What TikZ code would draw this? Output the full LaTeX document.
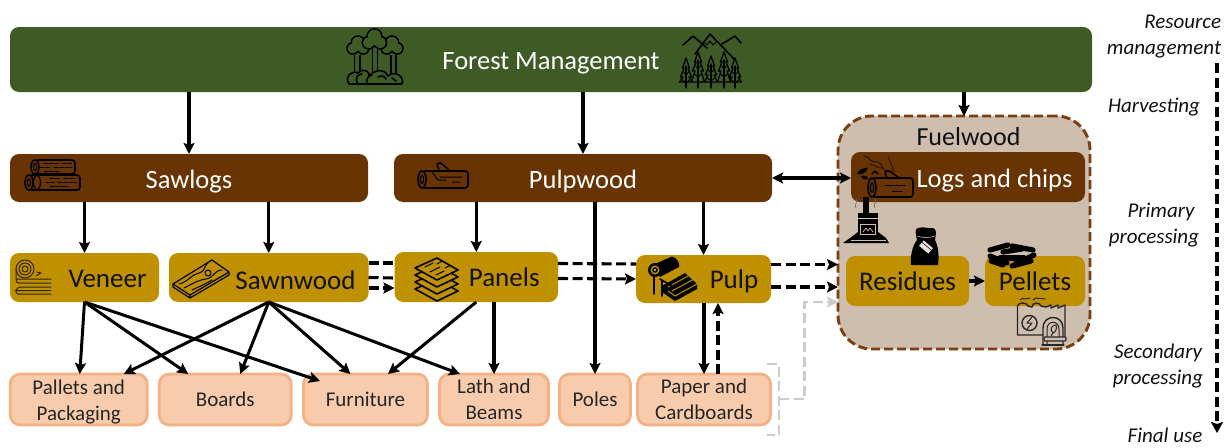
\documentclass[tikz,border=0pt]{standalone}
\usepackage{fontspec}
\setmainfont{Carlito}
\usetikzlibrary{arrows.meta,calc}
\definecolor{forestc}{HTML}{3E5B25}
\definecolor{brownc}{HTML}{683403}
\definecolor{ochrec}{HTML}{BF9000}
\definecolor{peachc}{HTML}{F8CBAD}
\definecolor{peachb}{HTML}{F4B183}
\definecolor{fuelc}{HTML}{CDBEAE}
\definecolor{fueld}{HTML}{7A3E10}
\definecolor{grayc}{HTML}{CCCCCC}
\definecolor{inkc}{HTML}{111111}
\newcommand{\lift}[1]{\rule{0pt}{#1pt}}
\tikzset{
  x=1pt,y=-1pt,
  every node/.style={inner sep=0pt,outer sep=0pt},
  box/.style={rounded corners=9pt,align=center},
  forestbox/.style={box,fill=forestc,text=white,font=\fontsize{26.5}{29}\selectfont},
  brownbox/.style={box,fill=brownc,text=white,font=\fontsize{26.5}{29}\selectfont},
  ochrebox/.style={box,fill=ochrec,text=inkc,font=\fontsize{27}{30}\selectfont},
  finalbox/.style={box,rounded corners=10pt,fill=peachc,draw=peachb,line width=2.8pt,text=black!85,font=\fontsize{21}{25}\selectfont},
  sidelabel/.style={font=\itshape\fontsize{21}{25}\selectfont,text=inkc,align=center},
  flow/.style={draw=black,line width=3.1pt,-{Stealth[length=11pt,width=11pt,inset=2pt]}},
  flowdiag/.style={flow,line width=3pt},
  flowdash/.style={draw=black,line width=3.1pt,dash pattern=on 10pt off 4.5pt},
  flowdashtip/.style={flowdash,-{Stealth[length=11pt,width=11pt,inset=2pt]}},
  flowgray/.style={draw=grayc,line width=2.8pt,dash pattern=on 10pt off 4.5pt},
  icon/.style={draw=black,line width=1.6pt,line cap=round,line join=round},
  iconthin/.style={draw=black,line width=1pt,line cap=round,line join=round},
}
% cloud shaped tree crown
\newcommand{\crownicon}[3]{%
  \foreach \dx/\dy/\rr in {-.55/.25/.6,.55/.25/.6,0/-.35/.7}{
    \draw[icon] (#1+\dx*#3,#2+\dy*#3) circle ({\rr*#3});}
  \foreach \dx/\dy/\rr in {-.55/.25/.6,.55/.25/.6,0/-.35/.7,0/.1/.5}{
    \fill[forestc] (#1+\dx*#3,#2+\dy*#3) circle ({\rr*#3-.8});}
}
\newcommand{\firicon}[3]{%
  \draw[fill=forestc,icon,line width=1.3pt] (#1,#2) -- (#1-3.5,#2+10) -- (#1-2,#2+10) -- (#1-5.5,#2+19) -- (#1-3,#2+19) -- (#1-6.5,#3-6) -- (#1+6.5,#3-6) -- (#1+3,#2+19) -- (#1+5.5,#2+19) -- (#1+2,#2+10) -- (#1+3.5,#2+10) -- cycle;
  \draw[icon,line width=1.3pt] (#1,#2+8) -- (#1,#3);
  \draw[icon,line width=.9pt] (#1-2.5,#2+14) -- (#1,#2+17) -- (#1+2.5,#2+14) (#1-3.5,#2+22) -- (#1,#2+25) -- (#1+3.5,#2+22);
}
\newcommand{\logicon}[5]{% x1 y1 x2 y2 fill
  \draw[icon,fill=#5,rounded corners=3pt] (#1+4,#2) rectangle (#3,#4);
  \draw[icon,fill=#5] (#1+4,{(#2+#4)/2}) ellipse (4 and {(#4-#2)/2});
  \draw[icon,line width=1.1pt] (#1+4,{(#2+#4)/2}) ellipse (1.6 and {(#4-#2)/4});
}
\begin{document}
\begin{tikzpicture}
\useasboundingbox (0,0) rectangle (1228,447);

% --- containers and boxes
\node[rounded corners=34pt,fill=fuelc,draw=fueld,line width=2.9pt,dash pattern=on 9pt off 4pt,minimum width=252pt,minimum height=233pt] (fuelwood) at (964,232.5) {};
\node[forestbox,minimum width=1082pt,minimum height=65pt] (forest) at (551,59.5) {\lift{25}Forest Management};
\node[brownbox,minimum width=358pt,minimum height=48pt] (sawlogs) at (189,178) {\lift{25}Sawlogs};
\node[brownbox,minimum width=378pt,minimum height=48pt] (pulpwood) at (583,178) {\lift{25}Pulpwood};
\node[brownbox,minimum width=234pt,minimum height=50pt] (logs) at (968,177) {\hspace*{53pt}\lift{25}Logs and chips};
\node[font=\fontsize{26}{28}\selectfont,text=inkc] (fuelt) at (968.5,137) {Fuelwood};
\node[ochrebox,minimum width=149pt,minimum height=49pt] (veneer) at (84.5,277.5) {\hspace*{46pt}\lift{21}Veneer};
\node[ochrebox,minimum width=199.5pt,minimum height=49pt] (sawnwood) at (268.75,277.5) {\hspace*{53.5pt}\lift{24}Sawnwood};
\node[ochrebox,minimum width=163.5pt,minimum height=50pt] (panels) at (476.25,277) {\hspace*{56pt}Panels};
\node[ochrebox,minimum width=135pt,minimum height=48pt] (pulp) at (703.5,279) {\hspace*{61pt}\lift{24}Pulp};
\node[ochrebox,minimum width=123pt,minimum height=50pt] (residues) at (907.5,281) {Residues};
\node[ochrebox,minimum width=100pt,minimum height=50pt] (pellets) at (1035,281) {Pellets};
\node[finalbox,minimum width=137pt,minimum height=51pt] (pallets) at (78.75,399.5) {\lift{20}Pallets and\\[1pt]Packaging};
\node[finalbox,minimum width=132pt,minimum height=51pt] (boards) at (225.25,399.5) {Boards};
\node[finalbox,minimum width=124pt,minimum height=51pt] (furniture) at (365.5,399.5) {Furniture};
\node[finalbox,minimum width=109pt,minimum height=51pt] (lath) at (494,399.5) {Lath and\\[1pt]Beams};
\node[finalbox,minimum width=71pt,minimum height=51pt] (poles) at (595,399.5) {Poles};
\node[finalbox,minimum width=133pt,minimum height=51pt] (paper) at (704,399.5) {Paper and\\[1pt]Cardboards};

% --- side labels
\node[sidelabel,anchor=north east,align=right] (lres) at (1221,15) {Resource\\[1pt]management};
\node[sidelabel] (lharv) at (1154,107) {Harvesting};
\node[sidelabel] (lprim) at (1154,225) {\hspace*{14pt}Primary\\[1pt]processing};
\node[sidelabel] (lsec) at (1158,366) {Secondary\\[1pt]processing};
\node[sidelabel] (lfin) at (1165,435.5) {Final use};
\coordinate (axistop) at (1217,63);
\coordinate (axisend) at (1217,433);
\draw[draw=black,line width=3.2pt,dash pattern=on 10pt off 4.5pt,-{Stealth[length=11pt,width=12pt,inset=2pt]}] (axistop) -- (axisend);

% --- solid flows
\draw[flow] (forest.south -| sawlogs.north) -- (sawlogs.north);
\draw[flow] (forest.south -| pulpwood.north) -- (pulpwood.north);
\draw[flow] (forest.south -| fuelwood.north) -- (fuelwood.north);
\draw[flow] (sawlogs.south -| veneer.north) -- (veneer.north);
\draw[flow] (sawlogs.south -| sawnwood.north) -- (sawnwood.north);
\draw[flow] (pulpwood.south -| panels.north) -- (panels.north);
\draw[flow] (pulpwood.south -| poles.north) -- (poles.north);
\draw[flow] (pulpwood.south -| pulp.north) -- (pulp.north);
\draw[flow,{Stealth[length=11pt,width=11pt,inset=2pt]}-{Stealth[length=11pt,width=11pt,inset=2pt]}] (pulpwood.east) -- (pulpwood.east -| logs.west);
\draw[flowdiag] (veneer.south) -- ([xshift=1pt]pallets.north);
\draw[flowdiag] (veneer.south) -- ([xshift=-37pt]boards.north);
\draw[flowdiag] (veneer.south) -- ([xshift=-45.5pt,yshift=-7pt]furniture.north);
\draw[flowdiag] (sawnwood.south) -- ([xshift=45pt]pallets.north);
\draw[flowdiag] (sawnwood.south) -- ([xshift=15pt]boards.north);
\draw[flowdiag] (sawnwood.south) -- ([xshift=-15pt]furniture.north);
\draw[flowdiag] (sawnwood.south) -- ([xshift=-34pt]lath.north);
\draw[flowdiag] (panels.south) -- ([xshift=22.5pt]furniture.north);
\draw[flow] (panels.south -| lath.north) -- (lath.north);
\draw[flow] (pulp.south -| paper.north) -- (paper.north);

% --- dashed flows
\draw[flowdash] ([yshift=14.5pt]sawnwood.east) -- ([yshift=14pt]panels.west);
\draw[flowdash] (sawnwood.east) -- ([yshift=-1pt]panels.west);
\draw[flowdashtip] ([yshift=-10.5pt]sawnwood.east) -- ([yshift=-11pt]panels.west);
\draw[flowdash] ([yshift=13.5pt]panels.east) -- ([yshift=15pt]pulp.west);
\draw[flowdashtip] ([yshift=-1.5pt]panels.east) -- (pulp.west);
\draw[flowdashtip] ([yshift=14.5pt]pulp.east) -- ([yshift=-32pt]fuelwood.west);
\draw[flowdashtip] ([yshift=-8pt]pulp.east) -- ([yshift=-54.5pt]fuelwood.west);
\draw[flowdashtip] ([xshift=14pt]paper.north) -- ([xshift=14.5pt]pulp.south);
\draw[flowdashtip] (residues.east) -- (pellets.west);

% --- grey dashed bracket
\coordinate (brtop) at (767,364);
\coordinate (brbot) at (767,435);
\coordinate (brmid) at (779,399);
\coordinate (brup) at (804.5,302);
\draw[flowgray] (brtop) -- (779,364) -- (779,435) -- (brbot);
\draw[flowgray,-{Stealth[length=11pt,width=11pt,inset=2pt]},draw=grayc] (brmid) -- (804.5,399) -- (brup) -- (brup -| fuelwood.west);

% ===== icons =====
% forest trees
\draw[icon] (354.5,56) -- (354.5,74) (360,56) -- (360,74) (391,56) -- (391,74) (396,56) -- (396,74);
\crownicon{358}{46}{9.5}
\crownicon{392}{46}{9.5}
\draw[icon] (354.5,56) -- (354.5,74) (360,56) -- (360,74) (391,56) -- (391,74) (396,56) -- (396,74);
\crownicon{374.5}{40}{10.5}
\draw[icon] (372.5,47) -- (372.5,74) (377.5,47) -- (377.5,74);
\draw[icon,fill=forestc] (349,84) .. controls (344,76) and (352,70) .. (358,73) .. controls (364,67) and (370,72) .. (369,76) .. controls (376,68) and (386,70) .. (388,76) .. controls (394,70) and (405,76) .. (402,84) -- cycle;
\draw[icon] (358,84) .. controls (354,78) and (358,74) .. (362,74) (368,84) .. controls (365,79) and (368,76) .. (372,75) (378,77) .. controls (382,75) and (384,76) .. (386,79) (392,78) -- (396,81);
% mountains and firs
\draw[icon] (683,45) -- (693,36) -- (707,48) (695,54) -- (710,34) -- (735,60) (722,44) -- (735,36) -- (741,43);
\draw[iconthin] (704,42) -- (707,45) -- (710,41) -- (713,45) -- (716,42);
\firicon{686}{58}{88}
\firicon{735}{58}{88}
\firicon{698}{52}{88}
\firicon{724}{52}{88}
\firicon{711}{56}{88}
% sawlogs
\logicon{31}{160}{75}{174}{brownc}
\logicon{25}{175}{80}{190}{brownc}
\draw[icon,line width=1.1pt] (37,182.5) ellipse (3.5 and 7);
\foreach \yy/\xa/\xb in {163/44/58,163/62/72,167/40/50,167/54/72,171/44/60,178/50/60,178/64/76,182/46/54,182/58/76,186/50/68}{
  \draw[iconthin,dash pattern=on 4pt off 1.5pt] (\xa,\yy) -- (\xb,\yy);}
% pulpwood log
\draw[icon] (439,170) -- (437,164.5) .. controls (438,162) and (441,162) .. (442,164) -- (450,171);
\logicon{418}{171}{468}{188}{brownc}
\draw[iconthin] (440,177) -- (462,177) (432,172) -- (438,180) -- (446,180) (452,182) -- (460,182);
% veneer
\draw[iconthin,draw=black!75!ochrec] (25,269) circle (9) (25,269) circle (6) (25,269) circle (3);
\draw[iconthin,draw=black!75!ochrec] (16,269) -- (16,279) -- (51,279) (19,283) -- (51,283) (16,279) .. controls (16,282) and (17,283) .. (19,283);
\draw[iconthin,draw=black!75!ochrec,rounded corners=3.5pt] (51,287) -- (17,287) -- (15,294) -- (51,294);
\draw[iconthin,draw=black!75!ochrec] (15,290.5) -- (51,290.5) (36,276) -- (41,273) (37,272) -- (41,273);
% plank
\draw[icon,line width=1.2pt] (173,284) -- (212,260) -- (229,272) -- (190,295) -- cycle;
\draw[icon,line width=1.2pt] (173,284) -- (173,287) -- (190,298) -- (229,275) -- (229,272) (190,295) -- (190,298);
\draw[iconthin] (179,284) .. controls (188,282) and (192,274) .. (199,273) .. controls (206,271) and (204,265) .. (208,263) (184,288) .. controls (192,284) and (198,280) .. (206,279) .. controls (214,278) and (214,270) .. (222,270);
\draw[iconthin] (208,273) circle (3) (192,290) .. controls (198,287) and (204,285) .. (212,280);
% panels stack
\foreach \dd in {21,14,7}{
  \draw[icon,fill=ochrec] (415,{268+\dd}) -- (437,{258+\dd}) -- (458,{270+\dd}) -- (437,{280+\dd}) -- cycle;}
\draw[icon,fill=ochrec] (415,268) -- (437,258) -- (458,270) -- (437,280) -- cycle;
\draw[iconthin] (425,267) -- (433,263) (430,272) -- (440,267) (437,264) -- (442,261) (436,275) -- (444,271) (445,268) -- (449,266);
% pulp machine
\fill[black] (655,264) -- (672,256.5) .. controls (677,258) and (680,263) .. (679,267) -- (660,277) -- cycle;
\fill[black] (662,286) -- (685,273) -- (697,284) -- (697,289) -- (675,301) -- (662,292) -- cycle;
\draw[draw=ochrec,line width=1pt] (668,287) -- (690,275) (672,291) -- (694,279) (668,291) -- (675,296) -- (697,284);
\fill[black] (655,270) circle (7);
\fill[ochrec] (655,270) circle (4.5);
\fill[black] (655,270) circle (2.8);
\fill[white!70!ochrec] (655,270) circle (1.2);
\draw[icon] (654,277) -- (654,294) (660,279) -- (672,286) (662,281) -- (662,296);
% logs and chips
\draw[iconthin,draw=black!60!brownc] (864,156) .. controls (872,158) and (868,162) .. (878,162) .. controls (884,164) and (880,170) .. (888,172);
\draw[iconthin,draw=black!60!brownc] (870,164) .. controls (876,166) and (878,168) .. (883,168) (888,156) -- (894,172);
\fill[black] (857,174) .. controls (858,170) and (864,167) .. (868,168) .. controls (867,172) and (862,175) .. (857,174);
\fill[black] (861,176) .. controls (864,175) and (868,176) .. (868,179) .. controls (865,180) and (862,179) .. (861,176);
\draw[icon] (872,174) -- (875,171) -- (878,174);
\draw[icon] (887,178) -- (885,173) .. controls (886,170) and (889,170) .. (891,172) -- (899,178);
\logicon{868}{178}{913}{197}{brownc}
\draw[iconthin] (885,185) -- (905,185) (892,191) -- (902,191);
% stove
\fill[black] (863,197) rectangle (869,214);
\fill[black] (858,213) rectangle (878,239);
\draw[draw=fuelc,line width=.7pt] (858,218) -- (878,218) (860,224) rectangle (875,234);
\draw[iconthin,line width=.7pt,draw=fuelc] (863,232) -- (866,228) -- (868,231) -- (870,228) -- (873,232);
\fill[black] (850,238) -- (858,232) -- (858,239) -- (878,239) -- (878,232) -- (886,238) -- (889,243) -- (843,243) -- cycle;
\draw[draw=fuelc,line width=.5pt] (851,240) -- (886,240);
\draw[iconthin,line width=.6pt,draw=black!60] (856,208) .. controls (854,205) and (858,202) .. (856,198) (875,208) .. controls (873,205) and (877,202) .. (875,198);
% sack
\fill[black] (917,240) .. controls (915,232) and (915,229) .. (918,228) .. controls (924,226) and (928,229) .. (933,228) .. controls (937,229) and (936,234) .. (935,240) .. controls (939,248) and (939,258) .. (938,265) -- (911,265) .. controls (910,258) and (912,246) .. (917,240) -- cycle;
\draw[draw=fuelc,line width=.6pt] (917,236) .. controls (922,238) and (930,238) .. (935,236);
\fill[white!55!fuelc,rotate around={-40:(926,247)}] (920,243.5) rectangle (932,250.5);
\draw[iconthin,line width=.5pt,rotate around={-40:(926,247)}] (920,246) -- (932,246);
% pellets
\foreach \xa/\ya/\xb/\yb in {990/250/1008/245,1012/246/1033/250,1003/252/1022/249,990/256/1007/263,1034/255/1015/264,991/261/1003/265,1031/261/1012/266,1000/258/1024/258}{
  \draw[draw=black,line width=5.2pt,line cap=round] (\xa,\ya) -- (\xb,\yb);}
% factory
\draw[icon,line width=1.4pt,draw=black!85] (1017.5,335) -- (1017.5,306) .. controls (1018,302) and (1027,302) .. (1028,306) -- (1032,307) .. controls (1032,302) and (1040,302) .. (1041,306) -- (1046,307) -- (1051,305) -- (1051,308) -- (1058,305) -- (1058,308) -- (1065,305) -- (1065,337) (1017.5,335) -- (1043,335);
\draw[iconthin,draw=black!85] (1020,300) .. controls (1021,298) and (1024,298) .. (1025,299) -- (1030,298) (1033,300) -- (1036,298) -- (1045,299);
\draw[icon,line width=1.4pt,draw=black!85,fill=fuelc] (1029.5,323) circle (7.5);
\draw[iconthin,draw=black!85] (1032,317) -- (1027,323) -- (1032,323) -- (1027,329);
\draw[icon,line width=1.4pt,draw=black!85,fill=fuelc] (1043,345) -- (1043,328) .. controls (1043,314) and (1063,314) .. (1063,328) -- (1063,345);
\draw[iconthin,draw=black!85] (1047,345) -- (1047,329) .. controls (1047,320) and (1059,320) .. (1059,329) -- (1059,340);
\draw[iconthin,draw=black!85] (1053,333) .. controls (1049,329) and (1052,325) .. (1056,325) .. controls (1057,329) and (1056,332) .. (1053,333) -- (1051,336);
\draw[icon,line width=1.2pt,draw=black!85,fill=fuelc,rounded corners=1pt] (1044,337) rectangle (1066,341);
\draw[icon,line width=1.2pt,draw=black!85] (1042,345) -- (1064,345);
\end{tikzpicture}
\end{document}
